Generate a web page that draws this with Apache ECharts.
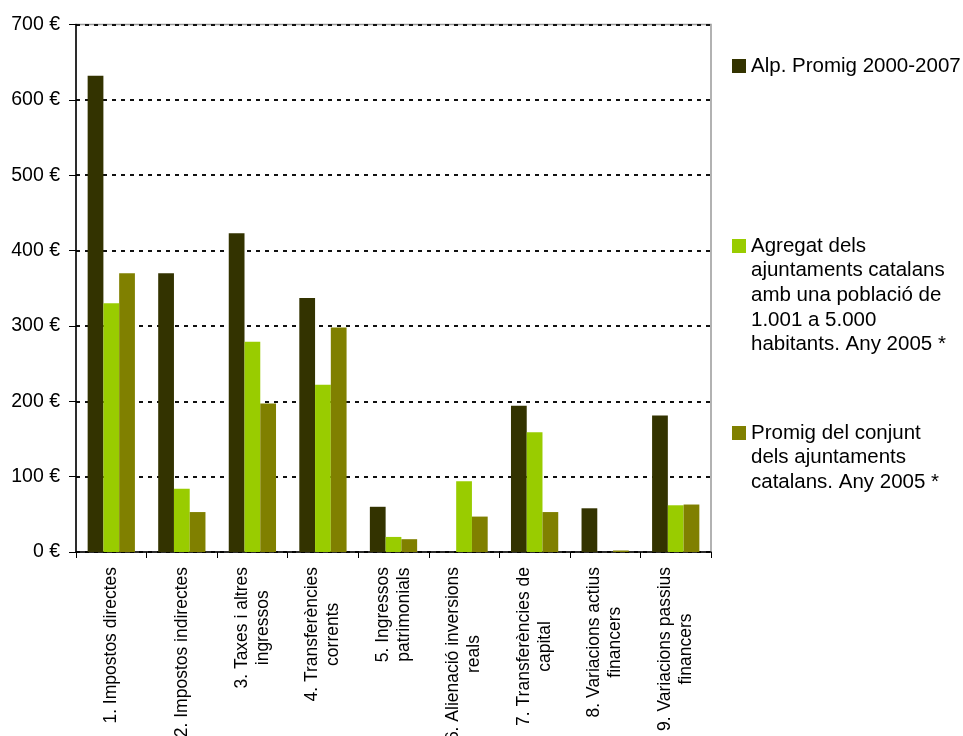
<!DOCTYPE html>
<html>
<head>
<meta charset="utf-8">
<script src="https://cdn.jsdelivr.net/npm/echarts@6/dist/echarts.min.js"></script>
<style>
html,body{margin:0;padding:0;background:#fff;}
#chart{width:963px;height:736px;}
</style>
</head>
<body>
<div id="chart"></div>
<script>
const categories = [
  "1. Impostos directes",
  "2. Impostos indirectes",
  "3. Taxes i altres\ningressos",
  "4. Transferències\ncorrents",
  "5. Ingressos\npatrimonials",
  "6. Alienació inversions\nreals",
  "7. Transferències de\ncapital",
  "8. Variacions actius\nfinancers",
  "9. Variacions passius\nfinancers"
];
const seriesNames = [
  "Alp. Promig 2000-2007",
  "Agregat dels\najuntaments catalans\namb una població de\n1.001 a 5.000\nhabitants. Any 2005 *",
  "Promig del conjunt\ndels ajuntaments\ncatalans. Any 2005 *"
];
const alpPromig = [632, 370, 423, 337, 60, 0, 194, 58, 181];
const agregat = [330, 84, 279, 222, 20, 94, 159, 0, 62];
const promigConjunt = [370, 53, 197, 298, 17, 47, 53, 2, 63];
const yTicks = { min: 0, max: 700, interval: 100, suffix: " €" };

const colors = ["#333300", "#99CC00", "#808000"];
const FONT = "Liberation Sans, Arial, sans-serif";
const LH = 24.7;

function legendFor(idx, iconCenterY) {
  const n = seriesNames[idx].split("\n").length;
  const boxH = (2 * n - 1) * LH;
  return {
    data: [seriesNames[idx]],
    left: 732,
    top: iconCenterY - boxH / 2,
    padding: 0,
    itemWidth: 14,
    itemHeight: 14,
    itemGap: 0,
    icon: "rect",
    selectedMode: false,
    formatter: function (name) {
      return "\n".repeat(n - 1) + name;
    },
    textStyle: {
      fontFamily: FONT,
      fontSize: 20.5,
      lineHeight: LH,
      color: "#000"
    }
  };
}

const chart = echarts.init(document.getElementById("chart"), null, { renderer: "canvas" });
chart.setOption({
  animation: false,
  backgroundColor: "#fff",
  color: colors,
  grid: {
    left: 76, right: 252, top: 24.5, bottom: 184,
    show: true, borderColor: "#999", borderWidth: 1.5,
    containLabel: false, outerBoundsMode: "none"
  },
  legend: [legendFor(0, 66), legendFor(1, 246), legendFor(2, 433)],
  xAxis: {
    type: "category",
    data: categories,
    boundaryGap: true,
    axisLine: { lineStyle: { color: "#000", width: 1.5 } },
    axisTick: { show: true, length: 6, lineStyle: { color: "#000" } },
    axisLabel: {
      interval: 0,
      rotate: 90,
      margin: 15,
      color: "#000",
      fontFamily: FONT,
      fontSize: 17.5,
      lineHeight: 21,
      formatter: function (v) {
        return v.split("\n").map(s => "{c|" + s + "}").join("\n");
      },
      rich: { c: { align: "center", fontFamily: FONT, fontSize: 17.5, lineHeight: 21, color: "#000" } }
    }
  },
  yAxis: {
    type: "value",
    min: yTicks.min, max: yTicks.max, interval: yTicks.interval,
    axisLine: { show: true, lineStyle: { color: "#000", width: 1.5 } },
    axisTick: { show: true, length: 7, lineStyle: { color: "#000" } },
    axisLabel: {
      margin: 16,
      color: "#000",
      fontFamily: FONT,
      fontSize: 19.5,
      formatter: function (v) { return v + yTicks.suffix; }
    },
    splitLine: { show: true, lineStyle: { color: "#111", width: 2, type: [4, 5] } }
  },
  series: [
    { name: seriesNames[0], type: "bar", data: alpPromig, barGap: "0%", barCategoryGap: "33%", itemStyle: { color: colors[0] } },
    { name: seriesNames[1], type: "bar", data: agregat, barGap: "0%", barCategoryGap: "33%", itemStyle: { color: colors[1] } },
    { name: seriesNames[2], type: "bar", data: promigConjunt, barGap: "0%", barCategoryGap: "33%", itemStyle: { color: colors[2] } }
  ]
});
</script>
</body>
</html>
